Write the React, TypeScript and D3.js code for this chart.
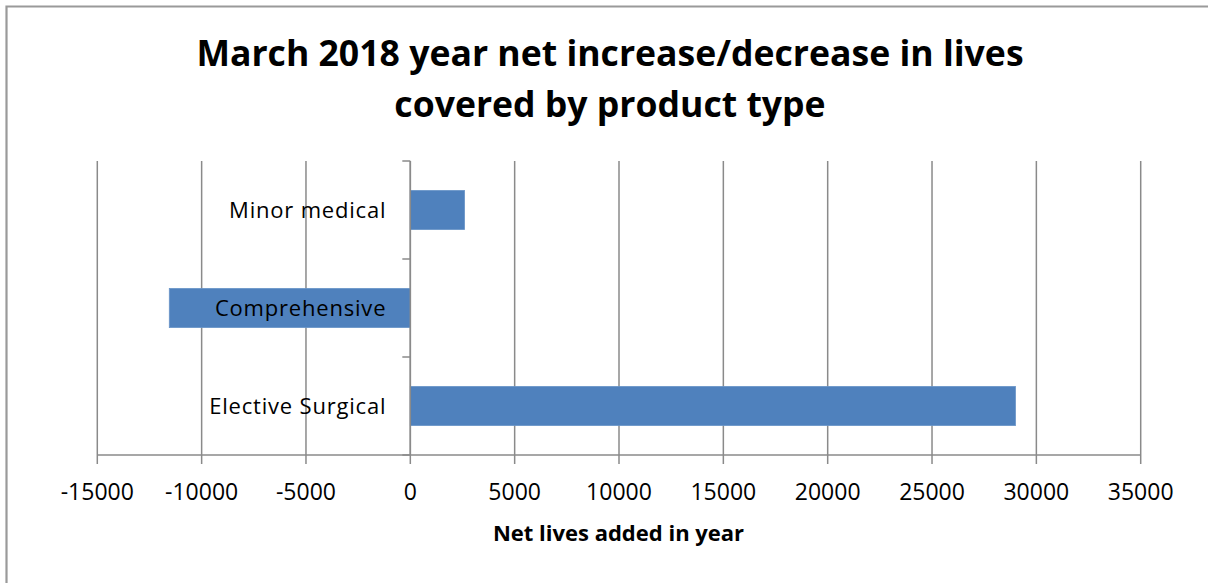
import React from "react";
import * as d3 from "d3";

const categories = ["Elective Surgical", "Comprehensive", "Minor medical"];
const netLives = [29000, -11550, 2600];
const xTicks = [-15000, -10000, -5000, 0, 5000, 10000, 15000, 20000, 25000, 30000, 35000];
const titleLines = ["March 2018 year net increase/decrease in lives", "covered by product type"];
const xAxisTitle = "Net lives added in year";

const W = 1208;
const H = 583;
const FONT = "'Open Sans', 'DejaVu Sans', sans-serif";

export default function App() {
  const plotLeft = 97.3;
  const plotRight = 1140.7;
  const plotTop = 161;
  const plotBottom = 455;

  const x = d3.scaleLinear().domain([-15000, 35000]).range([plotLeft, plotRight]);
  const yDomain = categories.slice().reverse();
  const y = d3
    .scaleBand<string>()
    .domain(yDomain)
    .range([plotTop, plotBottom])
    .paddingInner(0.6)
    .paddingOuter(0.3);
  const x0 = x(0);
  const grid = "#8a8a8a";
  const bounds = d3.range(categories.length + 1).map((i) => plotTop + i * ((plotBottom - plotTop) / categories.length));

  return (
    <svg
      width={W}
      height={H}
      style={{ position: "absolute", left: 0, top: 0, background: "#fff" }}
    >
      <rect x={0} y={0} width={W} height={H} fill="#fff" />
      {/* outer border */}
      <path d={`M6.5,${H + 2} V6.5 H${W + 2}`} fill="none" stroke="#9a9a9a" strokeWidth={2.2} />

      {/* title */}
      {titleLines.map((t, i) => (
        <text
          key={i}
          x={610}
          y={66 + i * 51}
          textAnchor="middle"
          fontFamily={FONT}
          fontWeight={700}
          fontSize={35.6}
          fill="#000"
        >
          {t}
        </text>
      ))}

      {/* gridlines */}
      {xTicks.map((t) => (
        <line
          key={"g" + t}
          x1={x(t)}
          x2={x(t)}
          y1={plotTop}
          y2={plotBottom + 9}
          stroke={grid}
          strokeWidth={1.5}
        />
      ))}

      {/* x axis line */}
      <line x1={plotLeft} x2={plotRight} y1={plotBottom} y2={plotBottom} stroke={grid} strokeWidth={1.5} />

      {/* bars */}
      {categories.map((c, i) => {
        const v = netLives[i];
        const bx = Math.min(x(v), x0);
        const bw = Math.abs(x(v) - x0);
        return (
          <rect
            key={c}
            x={bx}
            y={y(c)}
            width={bw}
            height={y.bandwidth()}
            fill="#4f81bd"
            stroke="#6a95c8"
            strokeWidth={0.8}
          />
        );
      })}

      {/* category axis */}
      <line x1={x0} x2={x0} y1={plotTop} y2={plotBottom} stroke={grid} strokeWidth={1.5} />
      {bounds.map((b, i) => (
        <line key={"ct" + i} x1={x0 - 8} x2={x0} y1={b} y2={b} stroke={grid} strokeWidth={1.5} />
      ))}

      {/* category labels */}
      {categories.map((c) => (
        <text
          key={"l" + c}
          x={x0 - 24}
          y={(y(c) as number) + y.bandwidth() / 2 + 8}
          textAnchor="end"
          fontFamily={FONT}
          fontSize={22}
          letterSpacing={0.8}
          fill="#000"
        >
          {c}
        </text>
      ))}

      {/* tick labels */}
      {xTicks.map((t) => (
        <text
          key={"t" + t}
          x={x(t)}
          y={500}
          textAnchor="middle"
          fontFamily={FONT}
          fontSize={23}
          fill="#000"
        >
          {String(t)}
        </text>
      ))}

      {/* axis title */}
      <text
        x={618.5}
        y={541}
        textAnchor="middle"
        fontFamily={FONT}
        fontWeight={700}
        fontSize={22}
        fill="#000"
      >
        {xAxisTitle}
      </text>
    </svg>
  );
}
